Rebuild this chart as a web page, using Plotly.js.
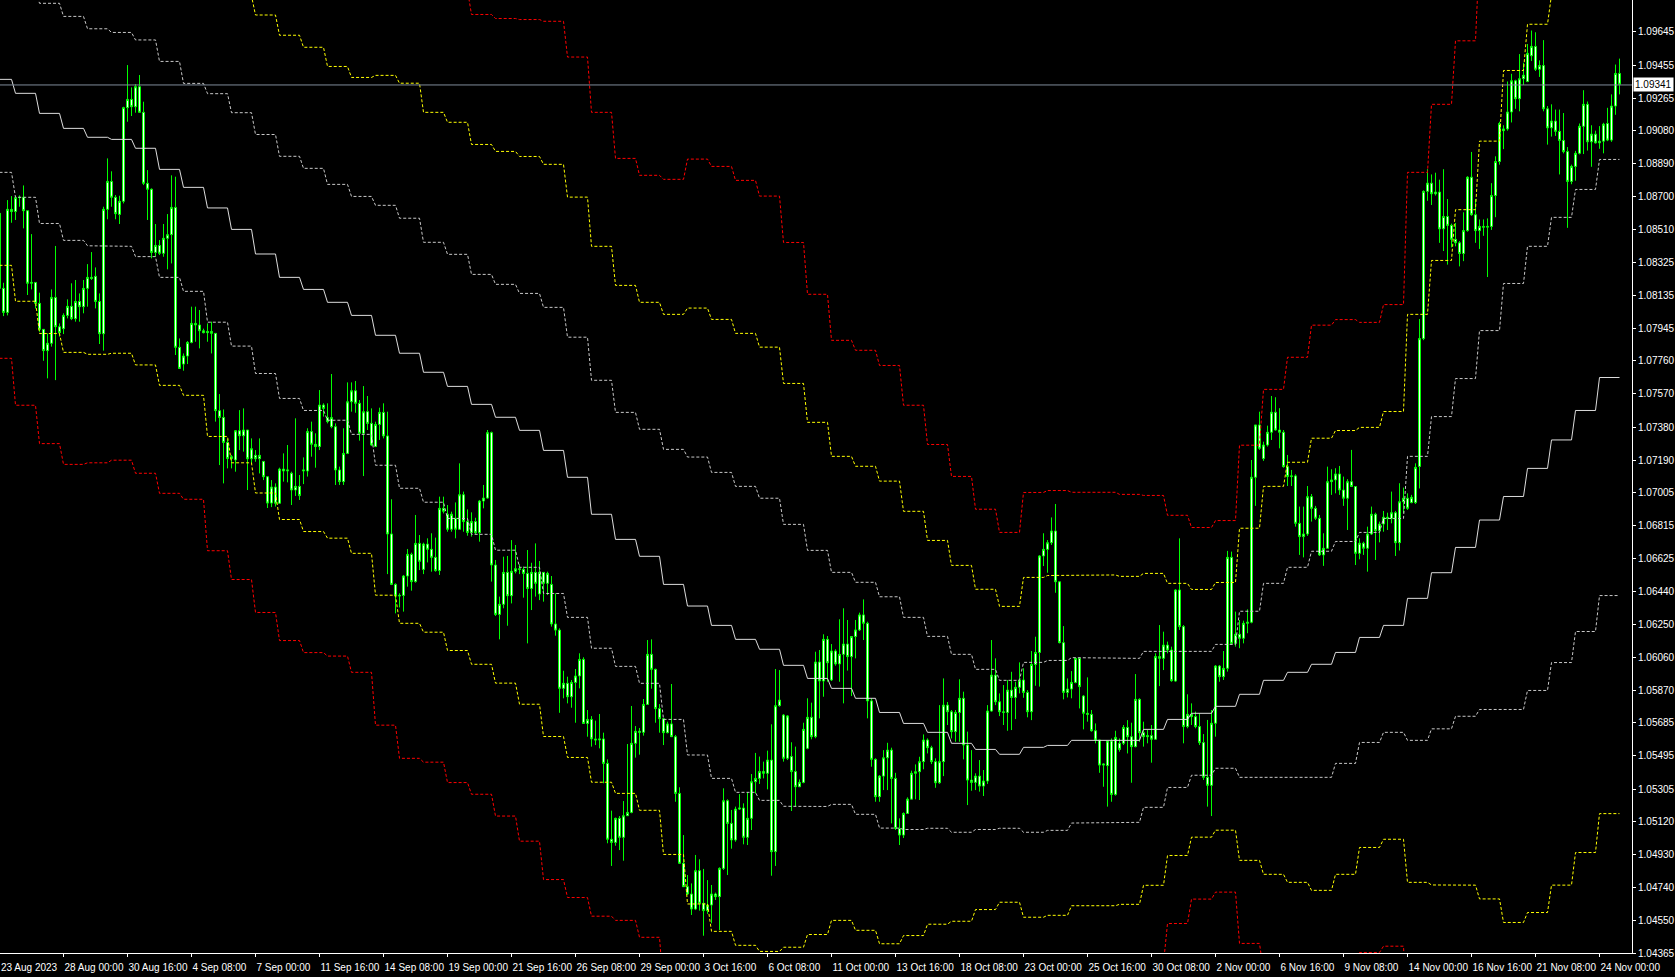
<!DOCTYPE html>
<html>
<head>
<meta charset="utf-8">
<script src="https://cdn.plot.ly/plotly-3.0.1.min.js"></script>
<style>
html,body{margin:0;padding:0;background:#000;}
#chart{width:1675px;height:977px;}
</style>
</head>
<body>
<div id="chart"></div>
<script>
// ---- H4 candles (bar index 0 = 23 Aug 2023 08:00) ----
const opens = [
1.08605,1.08175,1.08037,1.08628,1.08615,1.08695,1.08697,1.08620,1.08204,1.08209,
1.08089,1.07940,1.07818,1.07860,1.08123,1.07955,1.07944,1.08020,1.08072,1.08001,
1.08100,1.08070,1.08175,1.08238,1.08244,1.08100,1.07915,1.08628,1.08788,1.08697,
1.08599,1.08674,1.09211,1.09258,1.09216,1.09331,1.09184,1.08777,1.08743,1.08381,
1.08421,1.08376,1.08462,1.08483,1.08639,1.07837,1.07741,1.07787,1.07865,1.07974,
1.07965,1.07932,1.07921,1.07928,1.07917,1.07474,1.07435,1.07292,1.07200,1.07191,
1.07359,1.07330,1.07363,1.07198,1.07218,1.07198,1.07183,1.07095,1.06944,1.07036,
1.06943,1.07139,1.07128,1.07115,1.07019,1.07040,1.07128,1.07128,1.07354,1.07281,
1.07268,1.07506,1.07434,1.07382,1.07382,1.07134,1.07067,1.07229,1.07525,1.07588,
1.07516,1.07344,1.07468,1.07401,1.07268,1.07395,1.07464,1.07329,1.06767,1.06478,
1.06411,1.06415,1.06526,1.06650,1.06494,1.06713,1.06564,1.06709,1.06679,1.06633,
1.06557,1.06914,1.06880,1.06794,1.06857,1.06794,1.06992,1.06838,1.06776,1.06838,
1.06774,1.06956,1.06973,1.07348,1.06589,1.06306,1.06364,1.06547,1.06413,1.06553,
1.06568,1.06564,1.06541,1.06455,1.06547,1.06423,1.06547,1.06484,1.06478,1.06251,
1.06216,1.05882,1.05911,1.05834,1.05916,1.05953,1.06048,1.05681,1.05704,1.05592,
1.05586,1.05592,1.05452,1.05017,1.04999,1.05137,1.05028,1.05152,1.05171,1.05567,
1.05636,1.05630,1.05790,1.06077,1.05991,1.05766,1.05708,1.05628,1.05678,1.05605,
1.05280,1.04879,1.04745,1.04703,1.04617,1.04837,1.04650,1.04608,1.04640,1.04703,
1.04688,1.04850,1.05238,1.05108,1.05013,1.05190,1.05196,1.05028,1.05137,1.05347,
1.05366,1.05405,1.05395,1.05471,1.04946,1.05783,1.05729,1.05481,1.05491,1.05405,
1.05318,1.05343,1.05538,1.05716,1.05605,1.06033,1.05924,1.06163,1.05930,1.06096,
1.06022,1.06077,1.06136,1.06064,1.06179,1.06217,1.06303,1.06255,1.05810,1.05475,
1.05261,1.05379,1.05484,1.05528,1.05366,1.05079,1.05041,1.05165,1.05247,1.05395,
1.05404,1.05462,1.05586,1.05542,1.05462,1.05341,1.05462,1.05786,1.05748,1.05634,
1.05744,1.05825,1.05557,1.05356,1.05343,1.05379,1.05322,1.05351,1.05752,1.05958,
1.05805,1.05748,1.05744,1.05872,1.05830,1.05888,1.05930,1.05859,1.05748,1.06019,
1.06088,1.06641,1.06679,1.06717,1.06784,1.06493,1.06144,1.05859,1.05878,1.05916,
1.06054,1.05838,1.05739,1.05733,1.05639,1.05586,1.05442,1.05439,1.05580,1.05274,
1.05567,1.05567,1.05658,1.05605,1.05548,1.05819,1.05628,1.05605,1.05611,1.05590,
1.06064,1.06054,1.06130,1.06102,1.05924,1.06446,1.06236,1.05663,1.05733,1.05720,
1.05663,1.05571,1.05372,1.05326,1.05682,1.06010,1.05949,1.05997,1.06633,1.06140,
1.06192,1.06169,1.06255,1.06261,1.07092,1.07392,1.07199,1.07277,1.07350,1.07465,
1.07363,1.07350,1.07153,1.07096,1.07100,1.06828,1.06752,1.06767,1.06981,1.06914,
1.06857,1.06647,1.06685,1.07067,1.07077,1.07111,1.07019,1.06972,1.07067,1.07039,
1.06656,1.06714,1.06685,1.06767,1.06880,1.06786,1.06824,1.06863,1.06855,1.06889,
1.06717,1.06952,1.06972,1.06947,1.06947,1.07154,1.07887,1.08731,1.08778,1.08717,
1.08727,1.08516,1.08587,1.08536,1.08456,1.08436,1.08375,1.08506,1.08812,1.08597,
1.08506,1.08530,1.08526,1.08530,1.08707,1.08902,1.09079,1.09089,1.09186,1.09365,
1.09262,1.09377,1.09361,1.09508,1.09562,1.09431,1.09452,1.09204,1.09095,1.09134,
1.09075,1.09023,1.08959,1.08788,1.08874,1.08949,1.09104,1.09230,1.09015,1.09059,
1.09009,1.09019,1.09120,1.09025,1.09220,1.09407];
const highs = [
1.08615,1.08207,1.08681,1.08704,1.08704,1.08708,1.08765,1.08620,1.08486,1.08209,
1.08150,1.07940,1.07917,1.08169,1.08418,1.07974,1.08032,1.08112,1.08204,1.08223,
1.08146,1.08223,1.08314,1.08383,1.08295,1.08146,1.08643,1.08920,1.08846,1.08710,
1.08706,1.09216,1.09455,1.09327,1.09346,1.09398,1.09245,1.08853,1.08748,1.08544,
1.08452,1.08544,1.08601,1.08823,1.08815,1.07888,1.07802,1.07873,1.08070,1.08070,
1.08051,1.07944,1.07974,1.07984,1.07917,1.07569,1.07481,1.07311,1.07220,1.07363,
1.07477,1.07487,1.07363,1.07315,1.07248,1.07315,1.07183,1.07095,1.07076,1.07057,
1.07147,1.07229,1.07277,1.07124,1.07430,1.07105,1.07206,1.07373,1.07411,1.07344,
1.07592,1.07516,1.07516,1.07684,1.07401,1.07153,1.07373,1.07636,1.07636,1.07644,
1.07535,1.07615,1.07558,1.07487,1.07411,1.07491,1.07516,1.07468,1.06966,1.06484,
1.06427,1.06532,1.06681,1.06660,1.06876,1.06761,1.06717,1.06742,1.06771,1.06746,
1.06981,1.06981,1.06933,1.06895,1.06948,1.07172,1.07010,1.06908,1.06891,1.06860,
1.06962,1.07048,1.07363,1.07354,1.06618,1.06408,1.06637,1.06641,1.06732,1.06704,
1.06593,1.06580,1.06675,1.06602,1.06713,1.06612,1.06549,1.06551,1.06526,1.06427,
1.06226,1.05983,1.05949,1.05930,1.05993,1.06083,1.06060,1.05758,1.05723,1.05697,
1.05735,1.05628,1.05475,1.05181,1.05141,1.05150,1.05236,1.05563,1.05781,1.05666,
1.05655,1.05821,1.06159,1.06163,1.05995,1.05792,1.05708,1.05691,1.05907,1.05615,
1.05315,1.05041,1.04812,1.04764,1.04927,1.04902,1.04847,1.04783,1.04755,1.04711,
1.04856,1.05309,1.05246,1.05185,1.05204,1.05276,1.05223,1.05286,1.05391,1.05512,
1.05491,1.05462,1.05525,1.05676,1.05993,1.05987,1.05735,1.05729,1.05573,1.05548,
1.05360,1.05685,1.05825,1.05800,1.06092,1.06102,1.06192,1.06182,1.06136,1.06106,
1.06278,1.06341,1.06274,1.06182,1.06274,1.06316,1.06392,1.06264,1.05825,1.05481,
1.05385,1.05528,1.05570,1.05542,1.05398,1.05137,1.05171,1.05257,1.05410,1.05446,
1.05490,1.05618,1.05595,1.05553,1.05481,1.05786,1.05939,1.05804,1.05758,1.05758,
1.05934,1.05863,1.05634,1.05528,1.05395,1.05471,1.05414,1.05786,1.06159,1.06054,
1.05853,1.05901,1.05930,1.05977,1.05920,1.06031,1.05997,1.05872,1.06096,1.06178,
1.06646,1.06771,1.06732,1.06862,1.06939,1.06493,1.06239,1.05939,1.05981,1.06058,
1.06060,1.05844,1.05945,1.05758,1.05681,1.05586,1.05452,1.05580,1.05595,1.05639,
1.05595,1.05672,1.05700,1.05685,1.05964,1.05825,1.05691,1.05643,1.05672,1.06083,
1.06245,1.06207,1.06150,1.06121,1.06450,1.06742,1.06245,1.05848,1.05796,1.05749,
1.05739,1.05620,1.05701,1.05758,1.06016,1.06016,1.06096,1.06670,1.06666,1.06322,
1.06274,1.06270,1.06335,1.07191,1.07392,1.07468,1.07296,1.07388,1.07558,1.07551,
1.07488,1.07363,1.07220,1.07134,1.07109,1.06924,1.06924,1.07042,1.06996,1.06928,
1.06876,1.06771,1.07153,1.07138,1.07144,1.07157,1.07096,1.07081,1.07249,1.07042,
1.06742,1.06723,1.06809,1.06924,1.06889,1.06838,1.06899,1.06889,1.07010,1.06899,
1.07058,1.07033,1.07000,1.06991,1.07172,1.07999,1.08737,1.08858,1.08828,1.08838,
1.08798,1.08858,1.08687,1.08546,1.08550,1.08446,1.08611,1.08818,1.08957,1.08687,
1.08570,1.08570,1.08576,1.08778,1.08932,1.09130,1.09110,1.09361,1.09405,1.09371,
1.09518,1.09468,1.09576,1.09653,1.09643,1.09482,1.09598,1.09220,1.09230,1.09200,
1.09200,1.09180,1.08985,1.08884,1.08963,1.09120,1.09311,1.09246,1.09110,1.09079,
1.09105,1.09124,1.09210,1.09287,1.09458,1.09492];
const lows = [
1.08022,1.08016,1.08020,1.08551,1.08567,1.08643,1.08519,1.08137,1.08169,1.08060,
1.07926,1.07760,1.07659,1.07841,1.07649,1.07898,1.07913,1.08003,1.07993,1.07984,
1.07984,1.08032,1.08070,1.08223,1.08060,1.07856,1.07818,1.08571,1.08643,1.08571,
1.08544,1.08662,1.09130,1.09163,1.09182,1.09184,1.08767,1.08567,1.08347,1.08356,
1.08366,1.08356,1.08284,1.08318,1.07793,1.07716,1.07703,1.07741,1.07860,1.07869,
1.07831,1.07917,1.07869,1.07802,1.07411,1.07162,1.07057,1.07143,1.07143,1.07124,
1.07248,1.07239,1.07019,1.07172,1.07181,1.07114,1.07076,1.06916,1.06921,1.06924,
1.06939,1.07067,1.07063,1.06933,1.06985,1.06962,1.07053,1.07096,1.07210,1.07147,
1.07248,1.07440,1.07401,1.07373,1.07048,1.07048,1.07048,1.07225,1.07468,1.07462,
1.07302,1.07099,1.07363,1.07271,1.07268,1.07306,1.07315,1.06537,1.06474,1.06312,
1.06346,1.06322,1.06465,1.06442,1.06488,1.06560,1.06537,1.06604,1.06551,1.06551,
1.06532,1.06885,1.06780,1.06780,1.06742,1.06790,1.06780,1.06757,1.06752,1.06767,
1.06723,1.06914,1.06969,1.06494,1.06297,1.06163,1.06341,1.06241,1.06369,1.06541,
1.06537,1.06402,1.06140,1.06331,1.06408,1.06388,1.06379,1.06417,1.06236,1.06184,
1.05742,1.05825,1.05796,1.05771,1.05685,1.05882,1.05678,1.05605,1.05548,1.05557,
1.05538,1.05338,1.04994,1.04864,1.04980,1.04955,1.04894,1.05152,1.05166,1.05485,
1.05502,1.05611,1.05787,1.05880,1.05685,1.05628,1.05557,1.05624,1.05605,1.05232,
1.04875,1.04745,1.04697,1.04583,1.04611,1.04608,1.04464,1.04589,1.04535,1.04669,
1.04497,1.04841,1.04812,1.04963,1.05003,1.05185,1.04988,1.04984,1.05070,1.05280,
1.05334,1.05366,1.05303,1.04808,1.04864,1.05777,1.05462,1.05471,1.05179,1.05204,
1.05318,1.05338,1.05533,1.05590,1.05596,1.05710,1.05834,1.05920,1.05924,1.06012,
1.05920,1.05796,1.05984,1.05838,1.06054,1.06211,1.06159,1.05710,1.05433,1.05232,
1.05232,1.05299,1.05299,1.05108,1.05070,1.04984,1.05024,1.05165,1.05246,1.05246,
1.05242,1.05418,1.05509,1.05448,1.05312,1.05335,1.05379,1.05672,1.05595,1.05576,
1.05576,1.05475,1.05213,1.05295,1.05299,1.05290,1.05265,1.05334,1.05748,1.05786,
1.05723,1.05672,1.05639,1.05643,1.05706,1.05853,1.05828,1.05716,1.05700,1.05897,
1.05892,1.06583,1.06545,1.06704,1.06430,1.06140,1.05819,1.05830,1.05825,1.05911,
1.05767,1.05647,1.05691,1.05634,1.05567,1.05398,1.05318,1.05204,1.05232,1.05267,
1.05519,1.05557,1.05509,1.05341,1.05544,1.05576,1.05548,1.05567,1.05456,1.05590,
1.05895,1.05987,1.06083,1.05920,1.05920,1.06217,1.05567,1.05653,1.05672,1.05653,
1.05557,1.05357,1.05204,1.05150,1.05605,1.05920,1.05930,1.05978,1.06131,1.06121,
1.06112,1.06140,1.06198,1.06255,1.06928,1.07249,1.07186,1.07268,1.07306,1.07360,
1.07258,1.07147,1.07042,1.07042,1.06809,1.06647,1.06633,1.06756,1.06838,1.06847,
1.06641,1.06584,1.06681,1.06991,1.07000,1.06991,1.06928,1.06790,1.07039,1.06589,
1.06622,1.06647,1.06551,1.06761,1.06618,1.06719,1.06780,1.06790,1.06828,1.06641,
1.06672,1.06886,1.06905,1.06943,1.06939,1.07028,1.07878,1.08677,1.08653,1.08707,
1.08436,1.08389,1.08311,1.08410,1.08416,1.08301,1.08331,1.08500,1.08591,1.08436,
1.08401,1.08476,1.08240,1.08510,1.08583,1.08884,1.08973,1.09079,1.09126,1.09204,
1.09190,1.09341,1.09357,1.09478,1.09421,1.09387,1.09190,1.08999,1.09045,1.09049,
1.08828,1.08949,1.08522,1.08772,1.08792,1.08943,1.08945,1.08965,1.08872,1.09005,
1.08975,1.08949,1.09019,1.09015,1.09170,1.09287];
const closes = [
1.08175,1.08037,1.08628,1.08615,1.08695,1.08697,1.08620,1.08204,1.08209,1.08089,
1.07940,1.07818,1.07860,1.08123,1.07955,1.07921,1.08020,1.08072,1.08001,1.08100,
1.08070,1.08175,1.08238,1.08232,1.08100,1.07915,1.08628,1.08788,1.08697,1.08603,
1.08674,1.09211,1.09258,1.09216,1.09331,1.09184,1.08777,1.08743,1.08381,1.08421,
1.08376,1.08462,1.08483,1.08639,1.07837,1.07716,1.07787,1.07865,1.07974,1.07965,
1.07932,1.07921,1.07928,1.07917,1.07474,1.07435,1.07292,1.07200,1.07210,1.07359,
1.07330,1.07363,1.07198,1.07256,1.07198,1.07218,1.07095,1.06944,1.07036,1.06943,
1.07139,1.07128,1.07134,1.07019,1.07040,1.06987,1.07134,1.07354,1.07281,1.07268,
1.07506,1.07487,1.07411,1.07434,1.07134,1.07067,1.07229,1.07525,1.07588,1.07516,
1.07344,1.07468,1.07401,1.07277,1.07395,1.07464,1.07329,1.06767,1.06478,1.06411,
1.06415,1.06526,1.06650,1.06494,1.06713,1.06610,1.06709,1.06679,1.06633,1.06557,
1.06914,1.06897,1.06794,1.06880,1.06794,1.06992,1.06838,1.06776,1.06838,1.06774,
1.06956,1.06973,1.07348,1.06589,1.06306,1.06364,1.06547,1.06413,1.06553,1.06568,
1.06564,1.06541,1.06455,1.06547,1.06484,1.06547,1.06484,1.06541,1.06251,1.06216,
1.05882,1.05911,1.05834,1.05916,1.05953,1.06048,1.05681,1.05704,1.05592,1.05586,
1.05592,1.05452,1.05017,1.04999,1.05137,1.05028,1.05152,1.05171,1.05567,1.05636,
1.05630,1.05790,1.06077,1.05991,1.05766,1.05708,1.05628,1.05678,1.05605,1.05280,
1.04879,1.04745,1.04703,1.04617,1.04837,1.04650,1.04608,1.04640,1.04703,1.04688,
1.04850,1.05238,1.05108,1.05013,1.05190,1.05196,1.05028,1.05137,1.05347,1.05366,
1.05405,1.05395,1.05471,1.04946,1.05783,1.05815,1.05481,1.05724,1.05405,1.05318,
1.05343,1.05647,1.05716,1.05605,1.06033,1.05924,1.06163,1.06029,1.06096,1.06022,
1.06077,1.06136,1.06064,1.06179,1.06217,1.06303,1.06255,1.05810,1.05475,1.05261,
1.05379,1.05484,1.05528,1.05366,1.05079,1.05041,1.05165,1.05247,1.05395,1.05404,
1.05462,1.05586,1.05542,1.05462,1.05341,1.05462,1.05786,1.05748,1.05634,1.05744,
1.05825,1.05557,1.05356,1.05343,1.05379,1.05322,1.05351,1.05752,1.05958,1.05805,
1.05748,1.05744,1.05872,1.05830,1.05888,1.05930,1.05859,1.05748,1.06019,1.06088,
1.06641,1.06679,1.06717,1.06784,1.06493,1.06144,1.05859,1.05878,1.05916,1.06054,
1.05892,1.05739,1.05733,1.05639,1.05586,1.05442,1.05448,1.05580,1.05274,1.05601,
1.05532,1.05658,1.05605,1.05548,1.05819,1.05628,1.05605,1.05611,1.05590,1.06064,
1.06054,1.06130,1.06102,1.05926,1.06446,1.06236,1.05663,1.05733,1.05720,1.05663,
1.05571,1.05372,1.05326,1.05682,1.06010,1.05949,1.05997,1.06633,1.06140,1.06192,
1.06169,1.06255,1.06261,1.07092,1.07392,1.07258,1.07277,1.07350,1.07465,1.07363,
1.07350,1.07153,1.07096,1.07100,1.06828,1.06752,1.06767,1.06981,1.06914,1.06857,
1.06647,1.06685,1.07067,1.07077,1.07111,1.07019,1.06972,1.07067,1.07039,1.06656,
1.06714,1.06685,1.06767,1.06880,1.06786,1.06824,1.06863,1.06855,1.06889,1.06717,
1.06952,1.06972,1.06914,1.06977,1.07149,1.07887,1.08731,1.08778,1.08717,1.08727,
1.08516,1.08587,1.08536,1.08456,1.08436,1.08375,1.08506,1.08812,1.08597,1.08506,
1.08530,1.08526,1.08530,1.08707,1.08902,1.09120,1.09089,1.09186,1.09365,1.09262,
1.09377,1.09397,1.09522,1.09562,1.09431,1.09452,1.09204,1.09095,1.09134,1.09075,
1.09023,1.08959,1.08788,1.08874,1.08949,1.09104,1.09230,1.09015,1.09059,1.09009,
1.09019,1.09116,1.09025,1.09220,1.09407,1.09345];

// ---- daily channel: centre line and band step (one value per trading day) ----
const channelMid = [
1.09373,1.09293,1.09178,1.09092,1.09041,1.09029,1.08978,1.08857,1.08754,1.08636,
1.08513,1.08372,1.08238,1.08169,1.08095,1.08020,1.07906,1.07803,1.07694,1.07613,
1.07510,1.07436,1.07361,1.07246,1.07092,1.06880,1.06736,1.06639,1.06478,1.06354,
1.06243,1.06163,1.06106,1.06014,1.05939,1.05882,1.05825,1.05744,1.05681,1.05630,
1.05567,1.05532,1.05504,1.05544,1.05555,1.05584,1.05584,1.05584,1.05647,1.05704,
1.05739,1.05779,1.05848,1.05928,1.05974,1.06020,1.06088,1.06174,1.06243,1.06398,
1.06545,1.06690,1.06847,1.06982,1.07143,1.07306,1.07475,1.07664];
const channelStep = [
0.00533,0.00596,0.00631,0.00642,0.00622,0.00613,0.00621,0.00619,0.00596,0.00655,
0.00669,0.00685,0.00694,0.00694,0.00676,0.00682,0.00745,0.00774,0.00745,0.00757,
0.00745,0.00762,0.00785,0.00820,0.00803,0.00768,0.00728,0.00728,0.00774,0.00854,
0.00877,0.00877,0.00866,0.00808,0.00734,0.00665,0.00665,0.00663,0.00608,0.00550,
0.00510,0.00459,0.00424,0.00487,0.00487,0.00474,0.00474,0.00470,0.00447,0.00390,
0.00355,0.00355,0.00476,0.00556,0.00602,0.00648,0.00636,0.00602,0.00613,0.00814,
0.00895,0.00968,0.01086,0.01221,0.01273,0.01276,0.01267,0.01250];

// ---- axis labels ----
const firstTimeLabel = "23 Aug 2023";
const timeLabels = ["28 Aug 00:00","30 Aug 16:00","4 Sep 08:00","7 Sep 00:00","11 Sep 16:00",
"14 Sep 08:00","19 Sep 00:00","21 Sep 16:00","26 Sep 08:00","29 Sep 00:00","3 Oct 16:00","6 Oct 08:00",
"11 Oct 00:00","13 Oct 16:00","18 Oct 08:00","23 Oct 00:00","25 Oct 16:00","30 Oct 08:00","2 Nov 00:00",
"6 Nov 16:00","9 Nov 08:00","14 Nov 00:00","16 Nov 16:00","21 Nov 08:00","24 Nov 00:00"];
const timeLabelBars = [16,32,48,64,80,96,112,128,144,160,176,192,208,224,240,256,272,288,304,320,336,352,368,384,400];
const priceTicks = [1.09645,1.09455,1.09265,1.09080,1.08890,1.08700,1.08510,1.08325,1.08135,1.07945,
1.07760,1.07570,1.07380,1.07190,1.07005,1.06815,1.06625,1.06440,1.06250,1.06060,1.05870,1.05685,
1.05495,1.05305,1.05120,1.04930,1.04740,1.04550,1.04365];
const lastPrice = 1.09341;
const topCutLabel = 1.09835;

// ---- build ----
const n = opens.length;
const bars = Array.from({length:n}, (_, i) => i);
const dayOf = k => (k < 4 ? 0 : Math.floor((k - 4) / 6) + 1);

const traces = [];
const bandStyles = [
  {m: 3, color:'#ff0000', dash:'3px,2px'},
  {m: 2, color:'#ffff00', dash:'3px,2px'},
  {m: 1, color:'#c8c8c8', dash:'3px,2px'},
  {m: 0, color:'#dcdcdc', dash:'solid'},
  {m:-1, color:'#c8c8c8', dash:'3px,2px'},
  {m:-2, color:'#ffff00', dash:'3px,2px'},
  {m:-3, color:'#ff0000', dash:'3px,2px'}
];
bandStyles.forEach(s => {
  traces.push({
    type:'scatter', mode:'lines', x:bars,
    y: bars.map(k => channelMid[dayOf(k)] + s.m * channelStep[dayOf(k)]),
    line:{color:s.color, width:1, dash:s.dash, shape:'linear'},
    hoverinfo:'skip', showlegend:false
  });
});
traces.push({
  type:'candlestick', x:bars, open:opens, high:highs, low:lows, close:closes,
  increasing:{line:{color:'#00ff00', width:1}, fillcolor:'#ffffff'},
  decreasing:{line:{color:'#00ff00', width:1}, fillcolor:'#ffffff'},
  whiskerwidth:0, hoverinfo:'skip', showlegend:false
});

const fontFam = '"Liberation Sans", Arial, sans-serif';
const layout = {
  width:1675, height:977,
  margin:{l:0, r:43, t:0, b:24, pad:0},
  paper_bgcolor:'#000000', plot_bgcolor:'#000000',
  showlegend:false, hovermode:false,
  xaxis:{
    range:[0.125, 408.125], fixedrange:true,
    rangeslider:{visible:false},
    showgrid:false, zeroline:false,
    showline:true, linecolor:'#ffffff', linewidth:1,
    tickmode:'array', tickvals:timeLabelBars, ticktext:timeLabels,
    ticks:'outside', ticklen:3, tickcolor:'#ffffff', tickwidth:1,
    tickangle:0, ticklabelposition:'outside right', ticklabelstandoff:5,
    tickfont:{family:fontFam, size:10, color:'#ffffff'}
  },
  yaxis:{
    side:'right', range:[1.04365, 1.09828], fixedrange:true,
    showgrid:false, zeroline:false,
    showline:true, linecolor:'#ffffff', linewidth:1,
    tickmode:'array', tickvals:priceTicks, ticktext:priceTicks.map(v => v.toFixed(5)),
    ticks:'outside', ticklen:3, tickcolor:'#ffffff', tickwidth:1,
    tickfont:{family:fontFam, size:10, color:'#ffffff'}
  },
  shapes:[{
    type:'line', xref:'paper', x0:0, x1:1, yref:'y', y0:lastPrice, y1:lastPrice,
    line:{color:'#7f8c9a', width:1}
  }],
  annotations:[
    {xref:'paper', x:0, xanchor:'left', yref:'paper', y:0, yanchor:'top', yshift:-8,
     text:firstTimeLabel, showarrow:false, borderpad:0,
     font:{family:fontFam, size:10, color:'#ffffff'}},
    {xref:'paper', x:1, xanchor:'left', xshift:1, yref:'y', y:lastPrice, yanchor:'middle',
     text:lastPrice.toFixed(5), showarrow:false, bgcolor:'#ffffff', borderpad:1,
     font:{family:fontFam, size:10, color:'#000000'}},
    {xref:'paper', x:1, xanchor:'left', xshift:5, yref:'y', y:topCutLabel, yanchor:'middle',
     text:topCutLabel.toFixed(5), showarrow:false,
     font:{family:fontFam, size:10, color:'#ffffff'}}
  ]
};
Plotly.newPlot('chart', traces, layout, {displayModeBar:false, staticPlot:true});
</script>
</body>
</html>
